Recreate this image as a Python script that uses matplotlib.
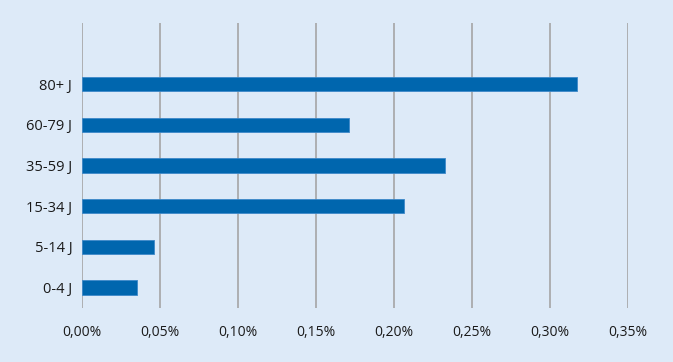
import matplotlib
matplotlib.use("Agg")
import matplotlib.pyplot as plt
from matplotlib.ticker import FuncFormatter

# data (share in percent)
categories = ["0-4 J", "5-14 J", "15-34 J", "35-59 J", "60-79 J", "80+ J"]
values = [0.0355, 0.0459, 0.2066, 0.2327, 0.1710, 0.3175]
xticks = [0.00, 0.05, 0.10, 0.15, 0.20, 0.25, 0.30, 0.35]

bg = "#ddeaf8"
bar_color = "#0066ae"

plt.rcParams['font.family'] = ['Open Sans', 'DejaVu Sans']

fig = plt.figure(figsize=(6.73, 3.62), dpi=100, facecolor=bg)
ax = fig.add_axes([82 / 673, (362 - 307.7) / 362, (628 - 82) / 673, (307.7 - 23.3) / 362])
ax.set_facecolor(bg)

ypos = list(range(len(categories)))
ax.barh(ypos, values, height=0.355, color=bar_color, edgecolor="#3d88c9",
        linewidth=0.6, zorder=3)

ax.set_xlim(0, 0.35)
ax.set_ylim(-0.5, 6.5)
ax.set_xticks(xticks)
ax.xaxis.set_major_formatter(FuncFormatter(lambda v, p: f"{v:.2f}%".replace(".", ",")))
ax.set_yticks(ypos)
ax.set_yticklabels(categories)

ax.grid(axis="x", color="#adafb2", linewidth=1.4, zorder=0)
ax.tick_params(axis="both", length=0, labelsize=10, colors="#1a1a1a")
ax.tick_params(axis="x", pad=12.5)
ax.tick_params(axis="y", pad=7, labelsize=10.5)
for s in ax.spines.values():
    s.set_visible(False)

fig.savefig("out.png", dpi=100, facecolor=bg)
